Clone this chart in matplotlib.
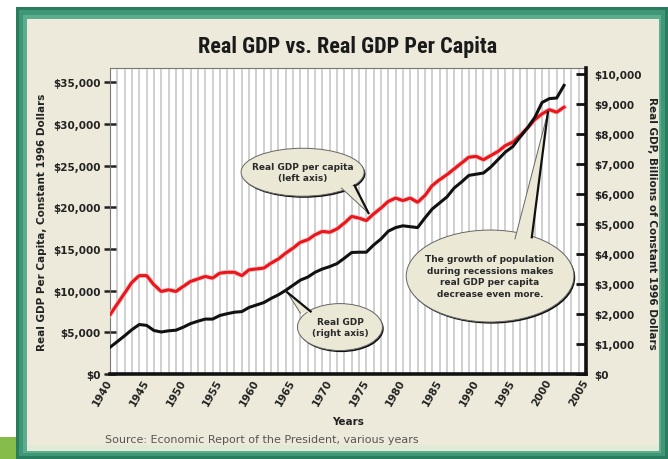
import matplotlib
matplotlib.use('Agg')
import matplotlib.pyplot as plt
import matplotlib.patheffects as pe
import matplotlib.transforms as mtransforms
from matplotlib.patches import Rectangle, Ellipse, Polygon
from matplotlib.ticker import MultipleLocator, FixedLocator
import numpy as np

# Data
years = np.arange(1940, 2003)
gdp_per_capita = [
    7100, 8400, 9700, 11000, 11800, 11800, 10700, 9900, 10100, 9900,
    10500, 11100, 11400, 11700, 11500, 12100, 12200, 12200, 11800, 12500,
    12600, 12700, 13300, 13800, 14500, 15100, 15800, 16100, 16700, 17100,
    17000, 17400, 18100, 18900, 18700, 18400, 19200, 19900, 20700, 21100,
    20800, 21100, 20600, 21400, 22600, 23300, 23900, 24600, 25300, 26000,
    26100, 25700, 26200, 26700, 27400, 27800, 28600, 29500, 30500, 31200,
    31700, 31400, 32000]
real_gdp = [
    890, 1080, 1275, 1480, 1650, 1620, 1450, 1400, 1440, 1460,
    1560, 1680, 1760, 1830, 1830, 1950, 2010, 2060, 2080, 2220,
    2300, 2380, 2520, 2640, 2790, 2960, 3130, 3230, 3390, 3500,
    3580, 3680, 3860, 4050, 4060, 4060, 4300, 4500, 4760, 4880,
    4940, 4910, 4880, 5200, 5500, 5700, 5900, 6200, 6400, 6620,
    6660, 6700, 6900, 7150, 7400, 7580, 7900, 8200, 8550, 9050,
    9180, 9200, 9620]

left_ticks = [0, 5000, 10000, 15000, 20000, 25000, 30000, 35000]
right_ticks = [0, 1000, 2000, 3000, 4000, 5000, 6000, 7000, 8000, 9000, 10000]
x_ticks = list(range(1940, 2006, 5))

BEIGE = '#EEEADB'
BUBBLE = '#EBE8D6'
W, H = 668, 460

fig = plt.figure(figsize=(6.68, 4.60), dpi=100)
fig.patch.set_facecolor('white')

def px_rect(x0, y0, x1, y1, color, z=0):
    # rectangle given in pixel coords measured from the top-left corner
    r = Rectangle((x0 / W, 1 - y1 / H), (x1 - x0) / W, (y1 - y0) / H,
                  transform=fig.transFigure, fc=color, ec='none', zorder=z)
    fig.add_artist(r)

# green frame + beige card
px_rect(16, 8, 668, 460, '#2a7c5f')
px_rect(19, 11, 665, 457, '#3f9777')
px_rect(23, 16, 661, 454, '#5aae8e')
px_rect(27, 20, 659, 452, BEIGE)
px_rect(27, 446, 659, 452, '#e2e9d4')
px_rect(0, 438, 16, 460, '#86bd4a')

ax = fig.add_axes([110 / W, 85 / H, 476 / W, 306 / H])
ax.set_facecolor('white')
ax2 = ax.twinx()

ax.plot(years, gdp_per_capita, color='#e8171d', lw=2.2, zorder=4,
        path_effects=[pe.Stroke(linewidth=3.4, foreground='#f7c0c0'), pe.Normal()])
ax2.plot(years, real_gdp, color='#111111', lw=2.2, zorder=4)

ax.set_xlim(1940, 2005)
ax.set_ylim(0, 36700)
ax2.set_ylim(0, 10200)

ax.xaxis.set_major_locator(FixedLocator(x_ticks))
ax.xaxis.set_minor_locator(MultipleLocator(1))
ax.grid(axis='x', which='both', color='#cdcdcd', lw=1.3)
ax.set_axisbelow(True)
ax.tick_params(axis='x', which='both', length=0, pad=4, labelsize=7.5)
ax.set_xticklabels([str(x) for x in x_ticks], rotation=60, ha='right',
                   va='center', rotation_mode='anchor', fontweight='bold',
                   color='#222222')

ax.set_yticks(left_ticks)
ax.set_yticklabels(['${:,}'.format(v) for v in left_ticks], fontweight='bold',
                   color='#222222')
ax.tick_params(axis='y', direction='inout', length=8, width=1.8,
               color='#222222', labelsize=7.5, pad=3)

ax2.set_yticks(right_ticks)
ax2.set_yticklabels(['${:,}'.format(v) for v in right_ticks], fontweight='bold',
                    color='#222222')
ax2.tick_params(axis='y', direction='in', length=7, width=2,
                color='#111111', labelsize=7.5, pad=6)

for s in ['top', 'left']:
    ax.spines[s].set_color('#777777')
    ax.spines[s].set_linewidth(0.8)
ax.spines['right'].set_visible(False)
ax.spines['bottom'].set_color('#111111')
ax.spines['bottom'].set_linewidth(2.6)
for s in ['top', 'left', 'bottom']:
    ax2.spines[s].set_visible(False)
ax2.spines['right'].set_color('#111111')
ax2.spines['right'].set_linewidth(2.6)

# speech bubbles, positioned in (year, left-axis) units
shadow = mtransforms.offset_copy(ax.transData, fig, x=1.3, y=-1.6, units='dots')

def bubble(cx, cy, w, h, base1, base2, tip, lines, fs=6.5):
    ax2.add_patch(Ellipse((cx, cy), w, h, transform=shadow, fc='#111111',
                          ec='none', zorder=6))
    ax2.add_patch(Ellipse((cx, cy), w, h, transform=ax.transData, fc=BUBBLE,
                          ec='#666666', lw=0.7, zorder=7))
    ax2.add_patch(Polygon([base1, tip, base2], closed=True,
                          transform=ax.transData, fc=BUBBLE, ec='none', zorder=8))
    ax2.plot([base1[0], tip[0]], [base1[1], tip[1]], transform=ax.transData,
             color='#666666', lw=0.7, zorder=9)
    ax2.plot([base2[0], tip[0]], [base2[1], tip[1]], transform=ax.transData,
             color='#111111', lw=1.6, zorder=9)
    ax2.text(cx, cy, lines, transform=ax.transData, ha='center', va='center',
             fontsize=fs, fontweight='bold', color='#2a2a2a', zorder=10,
             linespacing=1.35)

bubble(1966.3, 24200, 16.8, 5750, (1971.6, 22300), (1973.4, 22600),
       (1975.3, 19300), 'Real GDP per capita\n(left axis)')
bubble(1971.4, 5630, 11.6, 5630, (1966.0, 7300), (1967.4, 7500),
       (1964.2, 9800), 'Real GDP\n(right axis)')
bubble(1991.9, 11750, 22.9, 11030, (1995.3, 16200), (1997.6, 16400),
       (1999.8, 31400),
       'The growth of population\nduring recessions makes\nreal GDP per capita\ndecrease even more.')

ax2.set_ylim(0, 10200)
ax.set_xlim(1940, 2005)

fig.text(348 / W, 1 - 47 / H, 'Real GDP vs. Real GDP Per Capita',
         family=['Roboto Condensed', 'Liberation Sans'], fontsize=16,
         fontweight='bold', color='#1a1a1a', ha='center', va='center')
fig.text(42 / W, 1 - 222 / H, 'Real GDP Per Capita, Constant 1996 Dollars',
         rotation=90, fontsize=7.5, fontweight='bold', color='#222222',
         ha='center', va='center')
fig.text(652 / W, 1 - 223 / H, 'Real GDP, Billions of Constant 1996 Dollars',
         rotation=-90, fontsize=7.5, fontweight='bold', color='#222222',
         ha='center', va='center')
fig.text(348 / W, 1 - 422 / H, 'Years', fontsize=7.5, fontweight='bold',
         color='#222222', ha='center', va='center')
fig.text(105 / W, 1 - 440 / H, 'Source: Economic Report of the President, various years',
         fontsize=8, color='#555555', ha='left', va='center')

fig.savefig('out.png', dpi=100, facecolor='white')
